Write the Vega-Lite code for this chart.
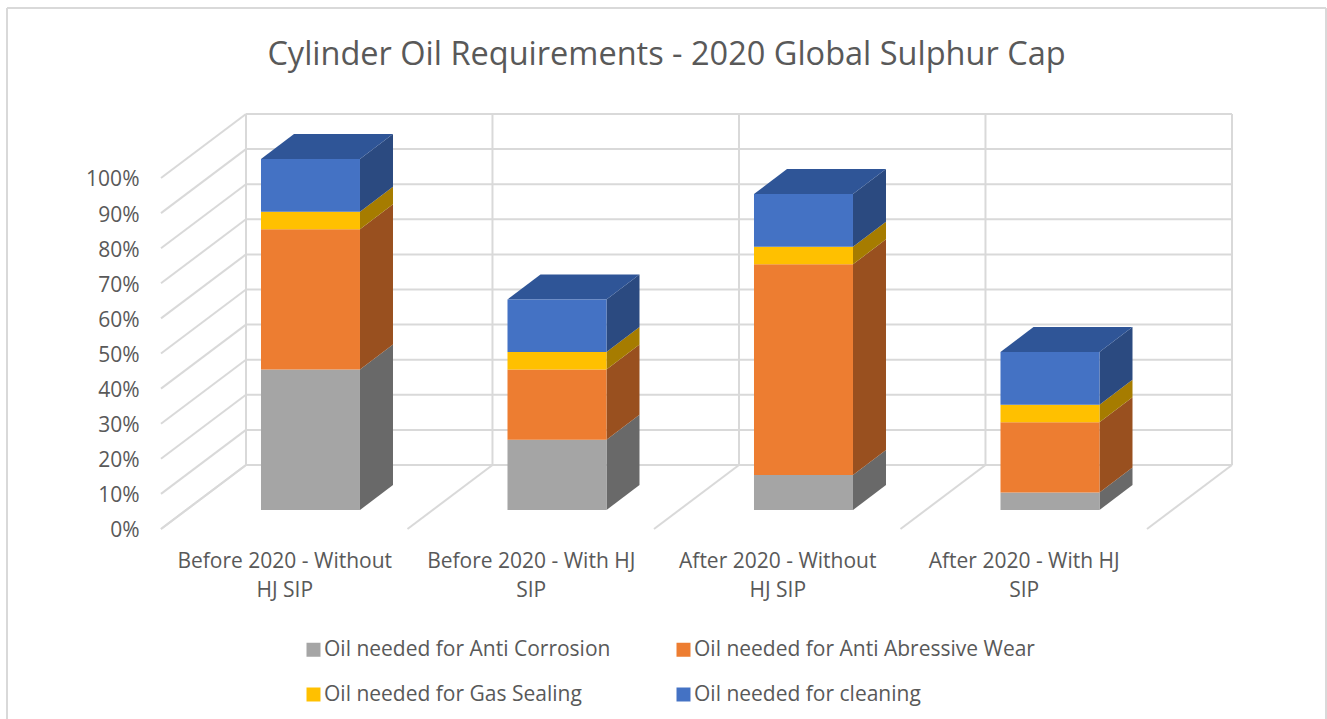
{
"$schema":"https://vega.github.io/schema/vega-lite/v6.json",
"width":1319,"height":711,
"autosize":{"type":"none"},
"padding":{"left":7,"top":8,"right":1,"bottom":0},
"background":"white",
"title":{"text":"Cylinder Oil Requirements - 2020 Global Sulphur Cap","font":"Open Sans","fontSize":32.5,"fontWeight":"normal","color":"#595959","anchor":"middle","frame":"group","offset":0,"dy":64,"dx":0},
"config":{
"view":{"stroke":null},
"axis":{"grid":false,"domain":false,"ticks":false,"title":null,"labelFont":"Open Sans","labelFontSize":21,"labelColor":"#595959","labelOverlap":false,"labelBound":false,"labelFlush":false,"labelLimit":500}
},
"datasets":{
"shares":[
{"scenario":"Before 2020 - Without HJ SIP","slot":0,"component":"Oil needed for Anti Corrosion","seq":1,"share":40},
{"scenario":"Before 2020 - Without HJ SIP","slot":0,"component":"Oil needed for Anti Abressive Wear","seq":2,"share":40},
{"scenario":"Before 2020 - Without HJ SIP","slot":0,"component":"Oil needed for Gas Sealing","seq":3,"share":5},
{"scenario":"Before 2020 - Without HJ SIP","slot":0,"component":"Oil needed for cleaning","seq":4,"share":15},
{"scenario":"Before 2020 - With HJ SIP","slot":1,"component":"Oil needed for Anti Corrosion","seq":1,"share":20},
{"scenario":"Before 2020 - With HJ SIP","slot":1,"component":"Oil needed for Anti Abressive Wear","seq":2,"share":20},
{"scenario":"Before 2020 - With HJ SIP","slot":1,"component":"Oil needed for Gas Sealing","seq":3,"share":5},
{"scenario":"Before 2020 - With HJ SIP","slot":1,"component":"Oil needed for cleaning","seq":4,"share":15},
{"scenario":"After 2020 - Without HJ SIP","slot":2,"component":"Oil needed for Anti Corrosion","seq":1,"share":10},
{"scenario":"After 2020 - Without HJ SIP","slot":2,"component":"Oil needed for Anti Abressive Wear","seq":2,"share":60},
{"scenario":"After 2020 - Without HJ SIP","slot":2,"component":"Oil needed for Gas Sealing","seq":3,"share":5},
{"scenario":"After 2020 - Without HJ SIP","slot":2,"component":"Oil needed for cleaning","seq":4,"share":15},
{"scenario":"After 2020 - With HJ SIP","slot":3,"component":"Oil needed for Anti Corrosion","seq":1,"share":5},
{"scenario":"After 2020 - With HJ SIP","slot":3,"component":"Oil needed for Anti Abressive Wear","seq":2,"share":20},
{"scenario":"After 2020 - With HJ SIP","slot":3,"component":"Oil needed for Gas Sealing","seq":3,"share":5},
{"scenario":"After 2020 - With HJ SIP","slot":3,"component":"Oil needed for cleaning","seq":4,"share":15}
],
"levels":[{"pct":0},{"pct":10},{"pct":20},{"pct":30},{"pct":40},{"pct":50},{"pct":60},{"pct":70},{"pct":80},{"pct":90},{"pct":100}],
"slots":[{"slot":0},{"slot":1},{"slot":2},{"slot":3},{"slot":4}],
"frameSides":[{"edge":-0.6247},{"edge":4.7262}],
"frameTop":[{"edge":148.43}]
},
"layer":[
{
"data":{"name":"frameSides"},
"mark":{"type":"rule","color":"#d9d9d9","strokeWidth":2},
"encoding":{"x":{"field":"edge","type":"quantitative","axis":null}}
},
{
"data":{"name":"frameTop"},
"mark":{"type":"rule","color":"#d9d9d9","strokeWidth":2},
"encoding":{"y":{"field":"edge","type":"quantitative","axis":null}}
},
{
"data":{"name":"levels"},
"transform":[{"calculate":"datum.pct+18.23","as":"backY"},{"calculate":"0.3448","as":"x0"},{"calculate":"4.3448","as":"x1"}],
"mark":{"type":"rule","color":"#d9d9d9","strokeWidth":2},
"encoding":{
"x":{"field":"x0","type":"quantitative","scale":{"domain":[-0.6247,4.7262],"nice":false,"zero":false},
"axis":{"orient":"bottom","offset":-169,"labelPadding":0,"labelLineHeight":29,"labelBaseline":"top","values":[0.5,1.5,2.5,3.5],
"labelExpr":"datum.value==0.5?['Before 2020 - Without','HJ SIP']:datum.value==1.5?['Before 2020 - With HJ','SIP']:datum.value==2.5?['After 2020 - Without','HJ SIP']:['After 2020 - With HJ','SIP']"}},
"x2":{"field":"x1"},
"y":{"field":"backY","type":"quantitative","scale":{"domain":[-54.13,148.43],"nice":false,"zero":false},
"axis":{"orient":"left","offset":-132,"labelPadding":0,"labelOffset":2,"values":[0,10,20,30,40,50,60,70,80,90,100],"labelExpr":"datum.value+'%'"}}
}
},
{
"data":{"name":"levels"},
"transform":[{"calculate":"datum.pct+18.23","as":"backY"},{"calculate":"0","as":"x0"},{"calculate":"0.3448","as":"x1"}],
"mark":{"type":"rule","color":"#d9d9d9","strokeWidth":2},
"encoding":{
"x":{"field":"x0","type":"quantitative","axis":null},"x2":{"field":"x1"},
"y":{"field":"pct","type":"quantitative","axis":null},"y2":{"field":"backY"}
}
},
{
"data":{"name":"slots"},
"transform":[{"calculate":"datum.slot+0.3448","as":"backX"},{"calculate":"18.23","as":"y0"},{"calculate":"118.23","as":"y1"}],
"mark":{"type":"rule","color":"#d9d9d9","strokeWidth":2},
"encoding":{
"x":{"field":"backX","type":"quantitative","axis":null},
"y":{"field":"y0","type":"quantitative","axis":null},"y2":{"field":"y1"}
}
},
{
"data":{"name":"slots"},
"transform":[{"calculate":"datum.slot+0.3448","as":"backX"},{"calculate":"0","as":"y0"},{"calculate":"18.23","as":"y1"}],
"mark":{"type":"rule","color":"#d9d9d9","strokeWidth":2},
"encoding":{
"x":{"field":"slot","type":"quantitative","axis":null},"x2":{"field":"backX"},
"y":{"field":"y0","type":"quantitative","axis":null},"y2":{"field":"y1"}
}
},
{
"data":{"name":"shares"},
"transform":[
{"stack":"share","groupby":["scenario"],"sort":[{"field":"seq"}],"as":["start","end"]},
{"calculate":"[0,1]","as":"z"},{"flatten":["z"]},
{"calculate":"datum.slot+0.8073+datum.z*0.1339","as":"sx"},
{"calculate":"datum.start+5.41+datum.z*7.12","as":"lo"},
{"calculate":"datum.end+5.41+datum.z*7.12","as":"hi"}
],
"mark":{"type":"area","opacity":1},
"encoding":{
"x":{"field":"sx","type":"quantitative","axis":null},
"y":{"field":"lo","type":"quantitative","axis":null,"stack":null},
"y2":{"field":"hi"},
"detail":{"field":"scenario"},
"color":{"field":"component","type":"nominal","legend":null,
"scale":{"domain":["Oil needed for Anti Corrosion","Oil needed for Anti Abressive Wear","Oil needed for Gas Sealing","Oil needed for cleaning"],"range":["#696969","#99501f","#a67c00","#2b4a80"]}}
}
},
{
"data":{"name":"shares"},
"transform":[
{"stack":"share","groupby":["scenario"],"sort":[{"field":"seq"}],"as":["start","end"]},
{"filter":"datum.seq==4"},
{"calculate":"[0,1]","as":"z"},{"flatten":["z"]},
{"calculate":"datum.slot+0.4057+datum.z*0.1339","as":"lx"},
{"calculate":"datum.slot+0.8073+datum.z*0.1339","as":"rx"},
{"calculate":"datum.end+5.41+datum.z*7.12","as":"hi"}
],
"mark":{"type":"area","orient":"horizontal","color":"#2f5597"},
"encoding":{
"y":{"field":"hi","type":"quantitative","axis":null},
"x":{"field":"lx","type":"quantitative","axis":null,"stack":null},
"x2":{"field":"rx"},
"detail":{"field":"scenario"}
}
},
{
"data":{"name":"shares"},
"transform":[
{"stack":"share","groupby":["scenario"],"sort":[{"field":"seq"}],"as":["start","end"]},
{"calculate":"datum.slot+0.4057","as":"lx"},
{"calculate":"datum.slot+0.8073","as":"rx"},
{"calculate":"datum.start+5.41","as":"lo"},
{"calculate":"datum.end+5.41","as":"hi"}
],
"mark":{"type":"rect"},
"encoding":{
"x":{"field":"lx","type":"quantitative","axis":null},"x2":{"field":"rx"},
"y":{"field":"lo","type":"quantitative","axis":null},"y2":{"field":"hi"},
"color":{"field":"component","type":"nominal",
"scale":{"domain":["Oil needed for Anti Corrosion","Oil needed for Anti Abressive Wear","Oil needed for Gas Sealing","Oil needed for cleaning"],"range":["#a5a5a5","#ed7d31","#ffc000","#4472c4"]},
"legend":{"title":null,"orient":"none","direction":"horizontal","legendX":296,"legendY":631,"columns":2,"columnPadding":62,"rowPadding":23,"symbolType":"square","symbolSize":196,"symbolStrokeWidth":0,"labelFont":"Open Sans","labelFontSize":21,"labelColor":"#595959","labelOffset":0,"labelLimit":500}}
}
}
],
"resolve":{"scale":{"color":"independent"},"axis":{"x":"independent","y":"independent"}}
}
